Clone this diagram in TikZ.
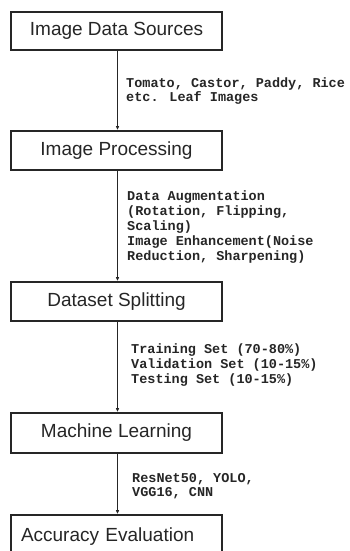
\documentclass[tikz,border=0pt]{standalone}
\usepackage{fontspec}
\setmainfont{Liberation Sans}
\newfontfamily\monob{Liberation Mono}
\usetikzlibrary{arrows.meta}
\tikzset{
  stepbox/.style={draw=black!85, line width=1.6pt, minimum width=211pt, minimum height=39pt, inner sep=0pt, font=\fontsize{19}{22}\selectfont, text=black!85},
  edgelabel/.style={anchor=west, inner sep=0pt, align=left, font=\monob\bfseries\fontsize{13.5}{15}\selectfont, text=black!85},
  flow/.style={draw=black!85, line width=0.8pt, -{Latex[length=4pt,width=3.5pt]}}
}
\begin{document}
\begin{tikzpicture}[x=1pt,y=1pt]
\useasboundingbox (0,0) rectangle (349,-551);
\clip (0,0) rectangle (349,-551);
\fill[white] (0,0) rectangle (349,-551);
\node[stepbox, minimum height=38pt] (b1) at (116.5,-31) {Image Data Sources};
\node[stepbox] (b2) at (116.5,-150.5) {Image Processing};
\node[stepbox] (b3) at (116.5,-301.5) {Dataset Splitting};
\node[stepbox, minimum height=40pt] (b4) at (116.5,-433) {Machine Learning};
\node[stepbox, minimum height=44pt, text width=191pt, inner xsep=10pt, align=left] (b5) at (116.5,-537) {Accuracy Evaluation};
\draw[flow] (b1.south -| 117.5,0) -- (b2.north -| 117.5,0);
\draw[flow] (b2.south -| 117.5,0) -- (b3.north -| 117.5,0);
\draw[flow] (b3.south -| 117.5,0) -- (b4.north -| 117.5,0);
\draw[flow] (b4.south -| 117.5,0) -- (b5.north -| 117.5,0);
\node[edgelabel, font=\monob\bfseries\fontsize{13.5}{14.5}\selectfont] (l1) at (126,-91) {Tomato, Castor, Paddy, Rice\\etc. Leaf Images};
\node[edgelabel] (l2) at (127,-227) {Data Augmentation\\(Rotation, Flipping,\\Scaling)\\Image Enhancement(Noise\\Reduction, Sharpening)};
\node[edgelabel] (l3) at (131,-365) {Training Set (70-80\%)\\Validation Set (10-15\%)\\Testing Set (10-15\%)};
\node[edgelabel, font=\monob\bfseries\fontsize{13.5}{14}\selectfont] (l4) at (132,-486.5) {ResNet50, YOLO,\\VGG16, CNN};
\end{tikzpicture}
\end{document}
